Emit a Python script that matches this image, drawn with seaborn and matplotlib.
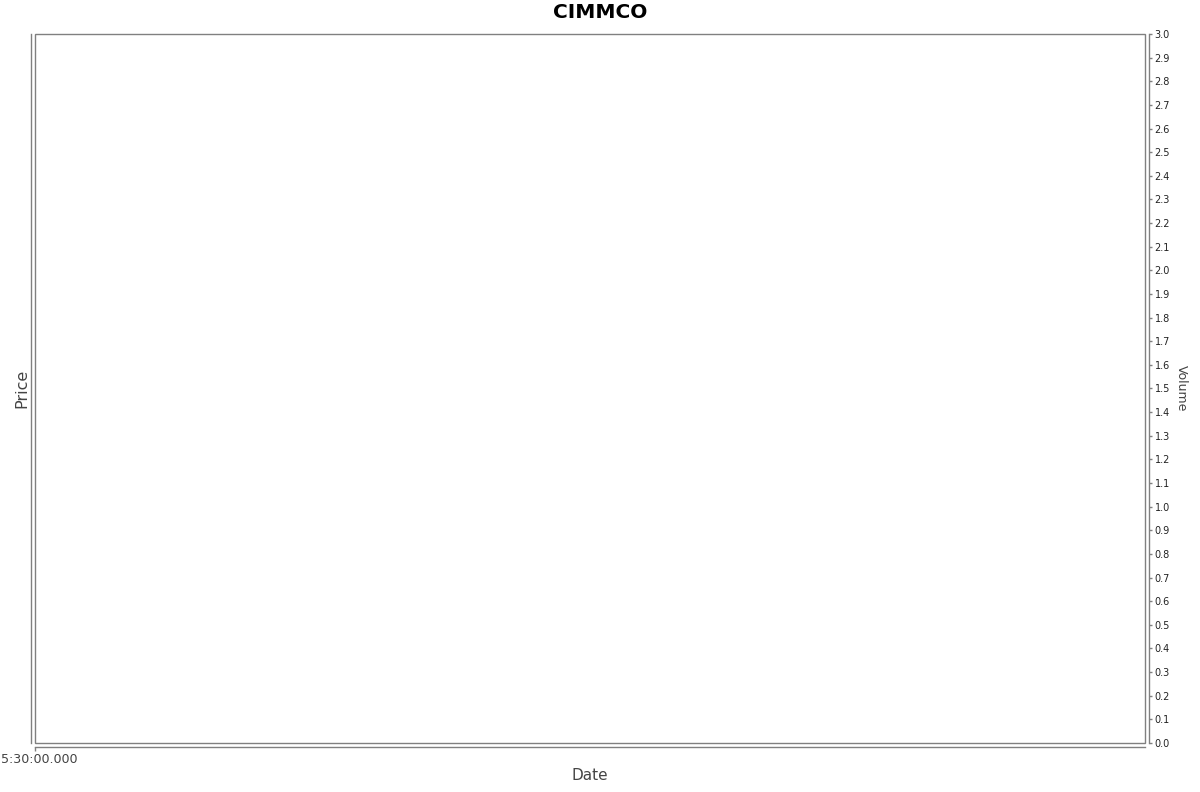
import matplotlib
matplotlib.use("Agg")
import matplotlib.pyplot as plt
import matplotlib.patches as mpatches
import matplotlib.transforms as mtransforms
import seaborn as sns
import pandas as pd
import numpy as np

# Data (the chart is empty: no observations)
dates = []
prices = []
volumes = []
x_tick_labels = ["5:30:00.000"]
volume_ticks = [round(0.1 * i, 1) for i in range(31)]

title = "CIMMCO"

sns.set_theme(style="white")
plt.rcParams['font.family'] = ['DejaVu Sans']

W, H = 1200, 792
fig = plt.figure(figsize=(W / 100, H / 100), dpi=100)
left, right, top, bottom = 35, 1145, 34, 743
ax = fig.add_axes([left / W, (H - bottom) / H, (right - left) / W, (bottom - top) / H])

df = pd.DataFrame({"Date": pd.Series(dates, dtype=float), "Price": pd.Series(prices, dtype=float)})
if len(df):
    sns.lineplot(data=df, x="Date", y="Price", ax=ax)

gray = "#808080"
ax.set_xlim(0, 1)
ax.set_ylim(0, 1)
ax.add_patch(mpatches.Rectangle((0, 0), 1, 1, transform=ax.transAxes, fill=False,
                                edgecolor=gray, linewidth=1.0, clip_on=False, zorder=5))
off = 3.0
for s in ["top", "right"]:
    ax.spines[s].set_visible(False)
for s in ["left", "bottom"]:
    ax.spines[s].set_visible(True)
    ax.spines[s].set_color(gray)
    ax.spines[s].set_linewidth(1.0)
    ax.spines[s].set_position(("outward", off))

ax.set_yticks([])
ax.set_xticks([0])
ax.set_xticklabels(x_tick_labels)
ax.tick_params(axis="x", direction="out", length=3, width=1, color=gray,
               labelsize=9.1, labelcolor="#444444", pad=1, bottom=True)
shift = mtransforms.ScaledTranslation(4.5 / 100, 0, fig.dpi_scale_trans)
for lbl in ax.get_xticklabels():
    lbl.set_transform(lbl.get_transform() + shift)

ax.set_xlabel("Date", fontsize=11, color="#444444", labelpad=2)
ax.set_ylabel("Price", fontsize=11.5, color="#444444", labelpad=1)

ax2 = ax.twinx()
ax2.set_ylim(0, 3.0)
ax2.set_yticks(volume_ticks)
ax2.set_yticklabels([f"{v:.1f}" for v in volume_ticks])
for s in ["top", "left", "bottom"]:
    ax2.spines[s].set_visible(False)
ax2.spines["right"].set_visible(True)
ax2.spines["right"].set_color(gray)
ax2.spines["right"].set_linewidth(1.0)
ax2.spines["right"].set_position(("outward", off))
ax2.tick_params(axis="y", direction="out", length=2, width=1, color=gray,
                labelsize=7, labelcolor="#222222", pad=2, right=True)
ax2.set_ylabel("Volume", fontsize=9, color="#444444", rotation=-90, labelpad=13)
if len(volumes):
    ax2.bar(dates, volumes)

fig.text(0.5, 1 - 13 / H, title, ha="center", va="center", fontsize=14.5,
         fontweight="bold", color="#000000")

fig.savefig("out.png", dpi=100, facecolor="white")
